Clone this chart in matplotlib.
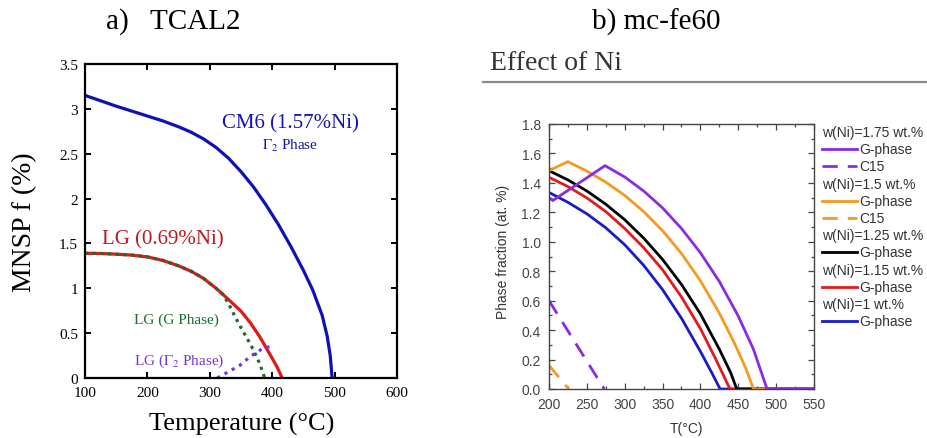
import matplotlib
matplotlib.use("Agg")
import matplotlib.pyplot as plt
from matplotlib.lines import Line2D
from matplotlib.ticker import MultipleLocator

# ---- panel a) TCAL2 : MNSP fraction vs temperature ----
cm6_temp = [100, 125, 150, 175, 200, 225, 250, 270, 290, 310, 330, 350, 370, 390,
            410, 430, 450, 465, 480, 488, 493, 496]
cm6_frac = [3.15, 3.09, 3.03, 2.975, 2.92, 2.865, 2.80, 2.74, 2.665, 2.57, 2.45,
            2.30, 2.13, 1.93, 1.71, 1.465, 1.20, 0.98, 0.70, 0.47, 0.25, 0.0]

lg_temp = [100, 125, 150, 175, 200, 225, 250, 270, 290, 310, 330, 350, 365, 380,
           395, 408, 416]
lg_frac = [1.39, 1.388, 1.38, 1.37, 1.35, 1.31, 1.25, 1.19, 1.11, 1.00, 0.875,
           0.745, 0.615, 0.46, 0.28, 0.12, 0.0]

lg_g_temp = [100, 125, 150, 175, 200, 225, 250, 270, 290, 310, 320, 330, 340, 350,
             360, 370, 380, 388]
lg_g_frac = [1.39, 1.388, 1.38, 1.37, 1.35, 1.31, 1.25, 1.19, 1.11, 1.00, 0.94,
             0.83, 0.69, 0.56, 0.44, 0.31, 0.16, 0.0]

lg_gamma_temp = [312, 330, 348, 365, 385, 396]
lg_gamma_frac = [0.0, 0.07, 0.14, 0.24, 0.33, 0.35]

# ---- panel b) mc-fe60 : effect of Ni ----
ni_labels = ["w(Ni)=1.75 wt.%", "w(Ni)=1.5 wt.%", "w(Ni)=1.25 wt.%",
             "w(Ni)=1.15 wt.%", "w(Ni)=1 wt.%"]

g175_temp = [200, 205, 274, 300, 325, 350, 375, 400, 425, 450, 470, 488, 550]
g175_frac = [1.30, 1.28, 1.517, 1.44, 1.345, 1.23, 1.09, 0.925, 0.73, 0.495, 0.27,
             0.0, 0.0]
c15_175_temp = [200, 273]
c15_175_frac = [0.60, 0.0]

g150_temp = [200, 225, 250, 275, 300, 325, 350, 375, 400, 425, 445, 460, 470, 550]
g150_frac = [1.483, 1.544, 1.48, 1.405, 1.315, 1.205, 1.075, 0.92, 0.735, 0.515,
             0.31, 0.14, 0.0, 0.0]
c15_150_temp = [200, 226]
c15_150_frac = [0.16, 0.0]

g125_temp = [200, 225, 250, 275, 300, 325, 350, 375, 400, 425, 440, 448, 550]
g125_frac = [1.483, 1.42, 1.345, 1.255, 1.15, 1.025, 0.88, 0.71, 0.51, 0.27, 0.11,
             0.0, 0.0]

g115_temp = [200, 225, 250, 275, 300, 325, 350, 375, 400, 420, 439, 550]
g115_frac = [1.438, 1.375, 1.298, 1.205, 1.09, 0.96, 0.81, 0.625, 0.41, 0.205, 0.0,
             0.0]

g100_temp = [200, 225, 250, 275, 300, 325, 350, 375, 400, 415, 426, 550]
g100_frac = [1.335, 1.268, 1.19, 1.095, 0.98, 0.84, 0.675, 0.48, 0.255, 0.11, 0.0,
             0.0]

purple = "#8a2be2"
orange = "#f39a21"
red_b = "#e31a1c"
blue_b = "#1a1acb"

plt.rcParams["mathtext.fontset"] = "stix"

fig = plt.figure(figsize=(9.28, 4.39), dpi=100)

# ================= panel a =================
serif = "Liberation Serif"
ax1 = fig.add_axes([85 / 928, 1 - 379 / 439, 312 / 928, 314 / 439])
ax1.plot(cm6_temp, cm6_frac, color="#1010b8", lw=2.3)
ax1.plot(lg_temp, lg_frac, color="#e01818", lw=2.3)
ax1.plot(lg_g_temp, lg_g_frac, color="#1e6b30", lw=2.3, dashes=(1, 1.4))
ax1.plot(lg_gamma_temp, lg_gamma_frac, color="#7a35d6", lw=2.3, dashes=(1, 1.6))

ax1.set_xlim(100, 600)
ax1.set_ylim(0, 3.5)
ax1.xaxis.set_major_locator(MultipleLocator(100))
ax1.yaxis.set_major_locator(MultipleLocator(0.5))
ax1.yaxis.set_major_formatter(matplotlib.ticker.FuncFormatter(lambda v, p: f"{v:g}"))
ax1.tick_params(direction="in", top=True, right=True, length=4, width=1.4,
                labelsize=11)
ax1.tick_params(axis="x", pad=6)
ax1.tick_params(axis="y", pad=5)
for lab in ax1.get_xticklabels() + ax1.get_yticklabels():
    lab.set_fontfamily(serif)
for sp in ax1.spines.values():
    sp.set_linewidth(1.6)

ax1.set_xlabel("Temperature (°C)", fontsize=19, family=serif)
ax1.set_ylabel("MNSP f (%)", fontsize=20, family=serif)
ax1.xaxis.set_label_coords(0.503, -0.108)
ax1.yaxis.set_label_coords(-0.155, 0.5)

ax1.text(430, 2.79, "CM6 (1.57%Ni)", color="#1414b4", fontsize=15, family=serif,
         ha="center", va="baseline")
ax1.text(429, 2.55, r"$\Gamma_2$ Phase", color="#1414b4", fontsize=11, family=serif,
         ha="center", va="baseline")
ax1.text(225, 1.50, "LG (0.69%Ni)", color="#c0161c", fontsize=15, family=serif,
         ha="center", va="baseline")
ax1.text(247, 0.62, "LG (G Phase)", color="#1e6b30", fontsize=11, family=serif,
         ha="center", va="baseline")
ax1.text(251, 0.16, r"LG ($\Gamma_2$ Phase)", color="#7a35d6", fontsize=11,
         family=serif, ha="center", va="baseline")

fig.text(173 / 928, 1 - 22 / 439, "a)   TCAL2", fontsize=21, family=serif,
         ha="center", va="center")

# ================= panel b =================
sans = "Liberation Sans"
ax2 = fig.add_axes([549 / 928, 1 - 390 / 439, 265 / 928, 265 / 439])
ax2.plot(g100_temp, g100_frac, color=blue_b, lw=2.0)
ax2.plot(g115_temp, g115_frac, color=red_b, lw=2.0)
ax2.plot(g125_temp, g125_frac, color="black", lw=2.0)
ax2.plot(c15_150_temp, c15_150_frac, color=orange, lw=2.0, dashes=(5.5, 3.6))
ax2.plot(g150_temp, g150_frac, color=orange, lw=2.0)
ax2.plot(c15_175_temp, c15_175_frac, color=purple, lw=2.0, dashes=(5.5, 3.6))
ax2.plot(g175_temp, g175_frac, color=purple, lw=2.0)

ax2.set_xlim(200, 550)
ax2.set_ylim(0, 1.8)
ax2.xaxis.set_major_locator(MultipleLocator(50))
ax2.xaxis.set_minor_locator(MultipleLocator(25))
ax2.yaxis.set_major_locator(MultipleLocator(0.2))
ax2.yaxis.set_minor_locator(MultipleLocator(0.1))
ax2.yaxis.set_major_formatter(matplotlib.ticker.FormatStrFormatter("%.1f"))
ax2.tick_params(which="both", direction="in", top=True, right=True,
                colors="#444444", labelsize=10, width=0.9)
ax2.tick_params(which="major", length=4, pad=6)
ax2.tick_params(which="minor", length=2)
for lab in ax2.get_xticklabels() + ax2.get_yticklabels():
    lab.set_fontfamily(sans)
for sp in ax2.spines.values():
    sp.set_color("#444444")
    sp.set_linewidth(1.0)

ax2.set_xlabel("T(°C)", fontsize=10, family=sans, color="#333333")
ax2.set_ylabel("Phase fraction (at. %)", fontsize=10, family=sans, color="#333333")
ax2.xaxis.set_label_coords(0.52, -0.12)
ax2.yaxis.set_label_coords(-0.147, 0.52)

# legend outside the axes (headers + line handles)
legend_rows = [
    (ni_labels[0], None, None),
    ("G-phase", purple, None),
    ("C15", purple, (5.5, 3.6)),
    (ni_labels[1], None, None),
    ("G-phase", orange, None),
    ("C15", orange, (5.5, 3.6)),
    (ni_labels[2], None, None),
    ("G-phase", "black", None),
    (ni_labels[3], None, None),
    ("G-phase", red_b, None),
    (ni_labels[4], None, None),
    ("G-phase", blue_b, None),
]
row_y = 133
for text, col, dash in legend_rows:
    yf = 1 - row_y / 439
    if col is None:
        fig.text(822 / 928, yf, text, fontsize=10, family=sans, color="#333333",
                 ha="left", va="center")
    else:
        ln = Line2D([822 / 928, 857 / 928], [yf, yf], transform=fig.transFigure,
                    color=col, lw=2.0)
        if dash is not None:
            ln.set_dashes(dash)
        fig.add_artist(ln)
        fig.text(859 / 928, yf, text, fontsize=10, family=sans, color="#333333",
                 ha="left", va="center")
    row_y += 17.2

fig.text(656 / 928, 1 - 22 / 439, "b) mc-fe60", fontsize=21, family=serif,
         ha="center", va="center")
fig.text(490 / 928, 1 - 63 / 439, "Effect of Ni", fontsize=20, family=serif,
         color="#333333", ha="left", va="center")
fig.add_artist(Line2D([483 / 928, 1.0], [1 - 83 / 439, 1 - 83 / 439],
                      transform=fig.transFigure, color="#8a8a8a", lw=1.6))

fig.savefig("out.png", dpi=100)
